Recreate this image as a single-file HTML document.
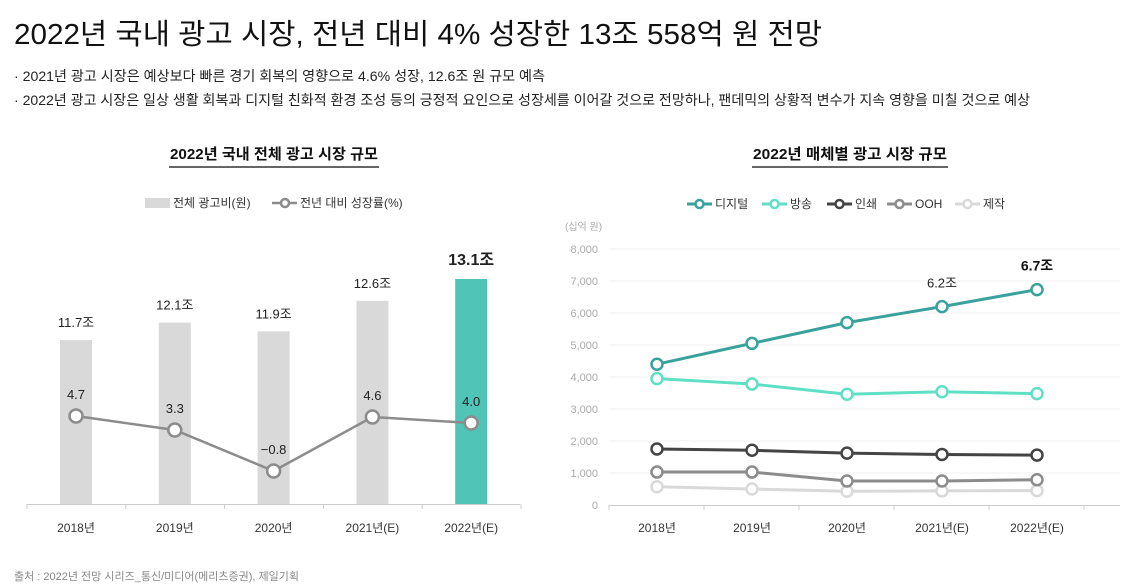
<!DOCTYPE html>
<html><head><meta charset="utf-8"><style>
html,body{margin:0;padding:0;background:#fff;}
svg{display:block;font-family:"Liberation Sans","Noto Sans CJK KR",sans-serif;}
</style></head><body>
<svg id="s" width="1136" height="587" viewBox="0 0 1136 587" xmlns="http://www.w3.org/2000/svg">
<text x="14" y="44" font-size="29" fill="#111" textLength="808" lengthAdjust="spacingAndGlyphs">2022년 국내 광고 시장, 전년 대비 4% 성장한 13조 558억 원 전망</text>
<text x="14" y="81" font-size="14" fill="#222" textLength="531" lengthAdjust="spacingAndGlyphs">· 2021년 광고 시장은 예상보다 빠른 경기 회복의 영향으로 4.6% 성장, 12.6조 원 규모 예측</text>
<text x="14" y="105" font-size="14" fill="#222" textLength="1016" lengthAdjust="spacingAndGlyphs">· 2022년 광고 시장은 일상 생활 회복과 디지털 친화적 환경 조성 등의 긍정적 요인으로 성장세를 이어갈 것으로 전망하나, 팬데믹의 상황적 변수가 지속 영향을 미칠 것으로 예상</text>
<text x="274" y="159" font-size="15" font-weight="bold" fill="#111" text-anchor="middle" textLength="208" lengthAdjust="spacingAndGlyphs">2022년 국내 전체 광고 시장 규모</text>
<line x1="169" y1="167" x2="379" y2="167" stroke="#333" stroke-width="1.5"/>
<text x="850" y="159" font-size="15" font-weight="bold" fill="#111" text-anchor="middle" textLength="194" lengthAdjust="spacingAndGlyphs">2022년 매체별 광고 시장 규모</text>
<line x1="752" y1="167" x2="948" y2="167" stroke="#333" stroke-width="1.5"/>
<g>
<rect x="145" y="198" width="25" height="10" fill="#d9d9d9"/>
<text x="173" y="207" font-size="12" fill="#333">전체 광고비(원)</text>
<line x1="272" y1="203" x2="297" y2="203" stroke="#8c8c8c" stroke-width="2.5"/>
<circle cx="285" cy="203" r="4" fill="#fff" stroke="#8c8c8c" stroke-width="2.5"/>
<text x="300" y="207" font-size="12" fill="#333">전년 대비 성장률(%)</text>
</g>
<g id="left"></g>
<g id="right"></g>
<text x="14" y="580" font-size="11" fill="#888">출처 : 2022년 전망 시리즈_통신/미디어(메리츠증권), 제일기획</text>
</svg>
<script>
const years = ["2018년","2019년","2020년","2021년(E)","2022년(E)"];
const totalSpend = [11.7,12.1,11.9,12.6,13.1];
const growthRate = [4.7,3.3,-0.8,4.6,4.0];
const mediaNames = ["디지털","방송","인쇄","OOH","제작"];
const digital = [4400,5050,5700,6200,6730];
const broadcast = [3950,3780,3460,3540,3480];
const print = [1750,1710,1620,1580,1560];
const ooh = [1030,1030,750,750,790];
const production = [570,500,430,440,450];
const yTicks = [0,1000,2000,3000,4000,5000,6000,7000,8000];

const NS="http://www.w3.org/2000/svg";
function mk(parent,tag,attrs,text){const e=document.createElementNS(NS,tag);for(const k in attrs)e.setAttribute(k,attrs[k]);if(text!==undefined)e.textContent=text;parent.appendChild(e);return e;}

// left chart
const L=document.getElementById('left');
const lx=i=>76+i*98.8;
const barY=v=>504-(v-7.94)*43.6;
const lineY=v=>463-v*10;
totalSpend.forEach((v,i)=>{
  const last=i===totalSpend.length-1;
  const r=mk(L,'rect',{x:lx(i)-16,y:barY(v),width:32,height:504-barY(v),fill:last?'#4fc4b7':'#d9d9d9'});
  
  
  const t=mk(L,'text',{x:lx(i),y:barY(v)-(last?14:13),'font-size':last?16:13,'font-weight':last?'bold':'normal',fill:'#222','text-anchor':'middle'},v.toFixed(1)+'조');
  
  
});
const ax=mk(L,'line',{x1:27,y1:504.5,x2:520,y2:504.5,stroke:'#ccc','stroke-width':1});


for(let i=0;i<=5;i++){mk(L,'line',{x1:27+i*98.8,y1:504,x2:27+i*98.8,y2:509,stroke:'#ccc'});}
years.forEach((y,i)=>{const t=mk(L,'text',{x:lx(i),y:532,'font-size':12,fill:'#333','text-anchor':'middle'},y);
  
  });
const gl=mk(L,'polyline',{points:growthRate.map((v,i)=>lx(i)+','+lineY(v)).join(' '),fill:'none',stroke:'#8c8c8c','stroke-width':2.5});


growthRate.forEach((v,i)=>{
  const c=mk(L,'circle',{cx:lx(i),cy:lineY(v),r:6.5,fill:'#fff',stroke:'#8c8c8c','stroke-width':2.5});
  
  
  const t=mk(L,'text',{x:lx(i),y:lineY(v)-17,'font-size':13,fill:'#222','text-anchor':'middle'},v.toFixed(1).replace('-','−'));
  
  
});

// right chart
const R=document.getElementById('right');
const rx=i=>657+i*95;
const ry=v=>505-v/1000*32;
mk(R,'text',{x:565,y:230,'font-size':10,fill:'#aaa'},'(십억 원)');
yTicks.forEach(v=>{
  if(v>0)mk(R,'line',{x1:609,y1:ry(v),x2:1120,y2:ry(v),stroke:'#f0f0f0'});
  const t=mk(R,'text',{x:598,y:ry(v)+4,'font-size':11,fill:'#aaa','text-anchor':'end'},v.toLocaleString('en-US'));
  
  
});
const rax=mk(R,'line',{x1:609,y1:505.5,x2:1120,y2:505.5,stroke:'#ccc'});


for(let i=0;i<=5;i++){mk(R,'line',{x1:609+i*95,y1:505,x2:609+i*95,y2:510,stroke:'#ccc'});}
years.forEach((y,i)=>{const t=mk(R,'text',{x:rx(i),y:532,'font-size':12,fill:'#333','text-anchor':'middle'},y);
  
  });
const series=[digital,broadcast,print,ooh,production];
const colors=['#3aa29d','#5fe0c4','#444','#8c8c8c','#d9d9d9'];
const legX=[690,765,830,890,958];
series.slice().reverse().forEach((s,ri)=>{
  const k=series.length-1-ri;
  const pl=mk(R,'polyline',{points:s.map((v,i)=>rx(i)+','+ry(v)).join(' '),fill:'none',stroke:colors[k],'stroke-width':3});
  
  
  s.forEach((v,i)=>{const c=mk(R,'circle',{cx:rx(i),cy:ry(v),r:5.5,fill:'#fff',stroke:colors[k],'stroke-width':2.5});
    
    });
});
mediaNames.forEach((n,k)=>{
  const x=legX[k];
  mk(R,'line',{x1:x-3,y1:204,x2:x+22,y2:204,stroke:colors[k],'stroke-width':3});
  mk(R,'circle',{cx:x+9.5,cy:204,r:4,fill:'#fff',stroke:colors[k],'stroke-width':2.5});
  const t=mk(R,'text',{x:x+25,y:208,'font-size':12,fill:'#333'},n);
  
  
});
const n=digital.length;
const a1=mk(R,'text',{x:rx(n-2),y:ry(digital[n-2])-19,'font-size':13,fill:'#222','text-anchor':'middle'},(digital[n-2]/1000).toFixed(1)+'조');


const a2=mk(R,'text',{x:rx(n-1),y:ry(digital[n-1])-19,'font-size':14,'font-weight':'bold',fill:'#111','text-anchor':'middle'},(digital[n-1]/1000).toFixed(1)+'조');


</script>
</body></html>
